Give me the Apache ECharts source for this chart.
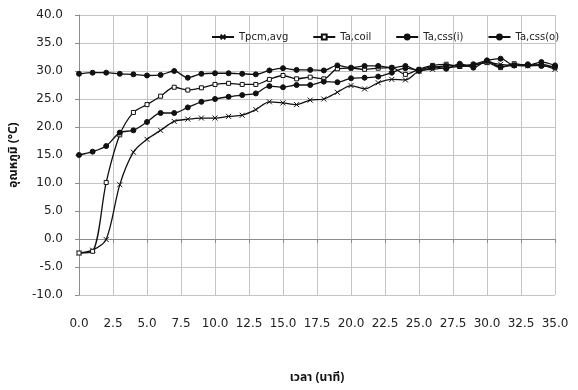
<!DOCTYPE html>
<html>
<head>
<meta charset="utf-8">
<style>
  html, body { margin: 0; padding: 0; background: #fff; }
  #chart { width: 578px; height: 390px; }
</style>
<script src="https://cdn.jsdelivr.net/npm/echarts@6/dist/echarts.min.js"></script>
</head>
<body>
<div id="chart"></div>
<script>
// เวลา (นาที) 0..35
var minutes = [0, 1, 2, 3, 4, 5, 6, 7, 8, 9, 10, 11, 12, 13, 14, 15, 16, 17,
  18, 19, 20, 21, 22, 23, 24, 25, 26, 27, 28, 29, 30, 31, 32, 33, 34, 35]

var tpcmAvg = [-2.5, -2.0, -0.1, 9.7, 15.5, 17.8, 19.4, 21.0, 21.4, 21.6, 21.6, 21.9,
  22.1, 23.1, 24.5, 24.3, 24.0, 24.8, 25.0, 26.2, 27.4, 26.8, 27.9, 28.5,
  28.4, 30.0, 30.3, 30.6, 30.8, 31.0, 31.5, 31.2, 31.0, 30.9, 31.0, 30.3]

var taCoil = [-2.5, -2.2, 10.1, 18.6, 22.6, 24.0, 25.5, 27.1, 26.6, 27.0, 27.6, 27.8,
  27.6, 27.6, 28.5, 29.2, 28.6, 28.9, 28.6, 30.4, 30.5, 30.3, 30.5, 30.6,
  29.4, 30.3, 31.0, 31.2, 30.8, 31.0, 31.5, 30.6, 31.3, 31.0, 31.2, 30.6]

var taCssIn = [15.0, 15.6, 16.6, 19.0, 19.4, 20.9, 22.5, 22.5, 23.5, 24.5, 25.0, 25.4,
  25.7, 26.0, 27.3, 27.1, 27.5, 27.5, 28.1, 28.0, 28.7, 28.8, 29.0, 29.7,
  30.5, 30.2, 30.8, 30.4, 31.3, 30.6, 31.8, 30.8, 31.0, 31.2, 30.9, 30.8]

var taCssOut = [29.5, 29.7, 29.7, 29.5, 29.4, 29.2, 29.3, 30.0, 28.8, 29.5, 29.6, 29.6,
  29.5, 29.4, 30.1, 30.5, 30.2, 30.2, 30.1, 31.0, 30.6, 30.9, 30.9, 30.6,
  30.9, 30.0, 30.6, 30.9, 31.0, 31.2, 31.9, 32.2, 31.0, 31.0, 31.6, 31.0]

var seriesNames = ['Tpcm,avg', 'Ta,coil', 'Ta,css(i)', 'Ta,css(o)']

var font = 'DejaVu Sans'
var thaiFont = "'Noto Sans Thai', 'Noto Sans', Tahoma, 'DejaVu Sans', sans-serif"
var gridColor = '#c4c4c4'
var axisColor = '#8c8c8c'

function pairs (ys) {
  return minutes.map(function (t, i) { return [t, ys[i]] })
}

function makeLine (name, ys, symbol, size, fill) {
  return {
    name: name,
    type: 'line',
    data: pairs(ys),
    smooth: 0.3,
    symbol: symbol,
    symbolSize: size,
    showSymbol: true,
    lineStyle: { color: '#111', width: 1.3 },
    itemStyle: { color: fill, borderColor: '#111', borderWidth: 1 },
    emphasis: { disabled: true },
    z: 5
  }
}

var chart = echarts.init(document.getElementById('chart'))
chart.setOption({
  animation: false,
  backgroundColor: '#fff',
  grid: { left: 79, right: 23, top: 15, bottom: 25 },
  legend: {
    data: seriesNames,
    left: 206,
    top: 27,
    itemWidth: 22,
    itemHeight: 6,
    itemGap: 24,
    textStyle: { fontFamily: font, fontSize: 10, color: '#222' }
  },
  xAxis: {
    type: 'value',
    min: 0,
    max: 35,
    interval: 2.5,
    name: 'เวลา (นาที)',
    nameLocation: 'middle',
    nameGap: 78,
    nameTextStyle: { fontFamily: thaiFont, fontSize: 12, fontWeight: 'bold', color: '#111' },
    axisLine: { show: true, lineStyle: { color: axisColor, width: 1 } },
    axisTick: { show: true, length: 4, lineStyle: { color: axisColor, width: 1 } },
    axisLabel: {
      margin: 23,
      fontFamily: font,
      fontSize: 12,
      color: '#222',
      formatter: function (v) { return v.toFixed(1) }
    },
    splitLine: { show: true, lineStyle: { color: gridColor, width: 1 } }
  },
  yAxis: {
    type: 'value',
    min: -10,
    max: 40,
    interval: 5,
    name: 'อุณหภูมิ (°C)',
    nameLocation: 'middle',
    nameGap: 55,
    nameRotate: 90,
    nameTextStyle: { fontFamily: thaiFont, fontSize: 12, fontWeight: 'bold', color: '#111' },
    axisLine: { show: true, lineStyle: { color: axisColor, width: 1 } },
    axisTick: { show: true, length: 4, lineStyle: { color: axisColor, width: 1 } },
    axisLabel: {
      margin: 16,
      fontFamily: font,
      fontSize: 12,
      color: '#222',
      formatter: function (v) { return v.toFixed(1) }
    },
    splitLine: { show: true, lineStyle: { color: gridColor, width: 1 } }
  },
  series: [
    makeLine(seriesNames[0], tpcmAvg, 'path://M0,0L10,10M10,0L0,10', 5, '#111'),
    makeLine(seriesNames[1], taCoil, 'rect', 4, '#fff'),
    makeLine(seriesNames[2], taCssIn, 'circle', 5, '#111'),
    makeLine(seriesNames[3], taCssOut, 'circle', 5, '#111')
  ]
})
</script>
</body>
</html>
